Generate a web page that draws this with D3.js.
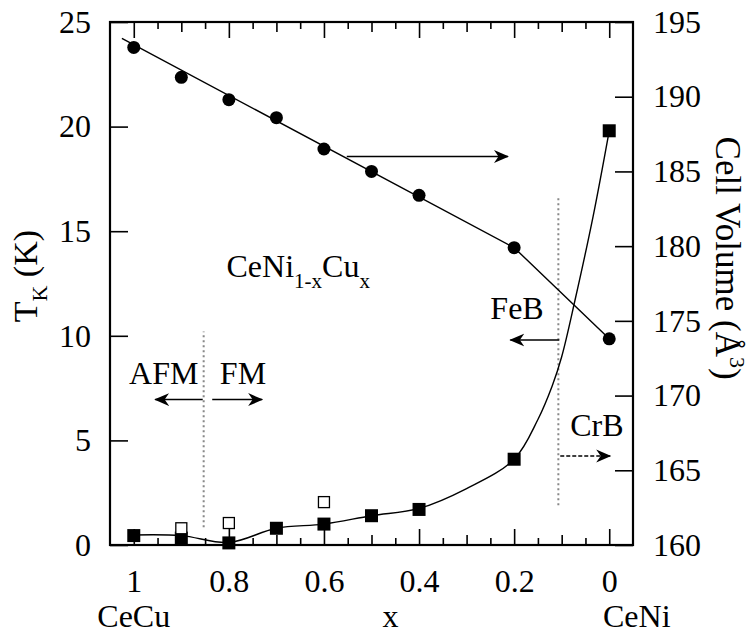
<!DOCTYPE html>
<html>
<head>
<meta charset="utf-8">
<script src="https://cdn.jsdelivr.net/npm/d3@7"></script>
<style>
  body { margin: 0; background: #fff; }
  text { font-family: "Liberation Serif", "Times New Roman", "DejaVu Serif", serif; }
</style>
</head>
<body>
<svg id="chart" width="754" height="636"></svg>
<script>
// composition x, and the two measured series
const xVals = [1, 0.9, 0.8, 0.7, 0.6, 0.5, 0.4, 0.2, 0];
const cellVolume = [193.3, 191.3, 189.8, 188.6, 186.5, 185.0, 183.4, 179.9, 173.8];
const tkFilled = [0.45, 0.33, 0.1, 0.8, 1.0, 1.4, 1.7, 4.1, 19.8];
const tkOpenX = [0.9, 0.8, 0.6];
const tkOpen = [0.8, 1.05, 2.05];

// guide lines
const volFitX = [1.025, 0.2, 0];
const volFit = [193.9, 179.9, 173.8];
const tkCurveX = [1.0, 0.9, 0.8, 0.7, 0.6, 0.5, 0.4, 0.3, 0.2, 0.15, 0.12, 0.1, 0.072, 0.034, 0.0];
const tkCurve = [0.48, 0.45, 0.12, 0.8, 1.0, 1.4, 1.75, 2.7, 4.1, 6.0, 7.6, 9.0, 11.7, 15.7, 19.8];

// tick values
const xTicks = [1, 0.8, 0.6, 0.4, 0.2, 0];
const xTickLabels = ["1", "0.8", "0.6", "0.4", "0.2", "0"];
const tkTicks = [0, 5, 10, 15, 20, 25];
const volTicks = [160, 165, 170, 175, 180, 185, 190, 195];

// phase boundaries (x, T from, T to) and arrows (x1, x2, y, axis)
const boundaryX = [0.853, 0.107];
const boundaryT = [[0.85, 10.2], [1.9, 16.7]];
const arrows = [
  { x1: 0.855, x2: 0.955, y: 6.95, axis: "tk", dash: false },
  { x1: 0.835, x2: 0.73, y: 6.95, axis: "tk", dash: false },
  { x1: 0.552, x2: 0.213, y: 186.0, axis: "vol", dash: false },
  { x1: 0.105, x2: 0.208, y: 9.8, axis: "tk", dash: false },
  { x1: 0.103, x2: -0.002, y: 4.25, axis: "tk", dash: true }
];
const labels = [
  { text: "AFM", x: 1.01, t: 7.7 },
  { text: "FM", x: 0.819, t: 7.7 },
  { text: "FeB", x: 0.25, t: 10.8 },
  { text: "CrB", x: 0.082, t: 5.2 }
];

const W = 754, H = 636;
const margin = { top: 22, right: 121, bottom: 91, left: 110 };
const serif = "'Liberation Serif', 'Times New Roman', 'DejaVu Serif', serif";
const svg = d3.select("#chart");

const x = d3.scaleLinear().domain([1.05, -0.05]).range([margin.left, W - margin.right]);
const yT = d3.scaleLinear().domain([0, 25]).range([H - margin.bottom, margin.top]);
const yV = d3.scaleLinear().domain([160, 195]).range([H - margin.bottom, margin.top]);

const fs = 32;

// arrowhead
svg.append("defs").append("marker")
  .attr("id", "head")
  .attr("viewBox", "0 -7 16 14")
  .attr("refX", 14).attr("refY", 0)
  .attr("markerWidth", 16).attr("markerHeight", 14)
  .attr("markerUnits", "userSpaceOnUse")
  .attr("orient", "auto")
  .append("path")
  .attr("d", "M0,-6.5 L15,0 L0,6.5 L4.5,0 Z")
  .attr("fill", "#000");

// x axis ticks (inward, top and bottom)
const minor05 = d3.range(0, 21).map(i => i * 0.05).filter(v => Math.round(v * 100) % 10 !== 0);
const minor10 = [0.9, 0.7, 0.5, 0.3, 0.1];

function xTickAxis(gen, vals, size, yPos) {
  svg.append("g")
    .attr("transform", `translate(0,${yPos})`)
    .call(gen(x).tickValues(vals).tickSize(-size).tickFormat(""))
    .call(g => g.select(".domain").remove())
    .call(g => g.selectAll("line").attr("stroke-width", 1.6));
}
[[d3.axisBottom, H - margin.bottom], [d3.axisTop, margin.top]].forEach(([gen, yPos]) => {
  xTickAxis(gen, xTicks, 16, yPos);
  xTickAxis(gen, minor10, 10, yPos);
  xTickAxis(gen, minor05, 7, yPos);
});

// bottom labels
svg.append("g")
  .attr("transform", `translate(0,${H - margin.bottom})`)
  .call(d3.axisBottom(x).tickValues(xTicks).tickSize(0).tickPadding(24)
    .tickFormat((d, i) => xTickLabels[i]))
  .call(g => g.select(".domain").remove())
  .call(g => g.selectAll("text").attr("font-size", fs).attr("fill", "#000"));

// left axis
svg.append("g")
  .attr("transform", `translate(${margin.left},0)`)
  .call(d3.axisLeft(yT).tickValues(tkTicks).tickSize(-18).tickPadding(19))
  .call(g => g.select(".domain").remove())
  .call(g => g.selectAll("line").attr("stroke-width", 1.6))
  .call(g => g.selectAll("text").attr("font-size", fs).attr("fill", "#000"));

// right axis
svg.append("g")
  .attr("transform", `translate(${W - margin.right},0)`)
  .call(d3.axisRight(yV).tickValues(volTicks).tickSize(-18).tickPadding(20))
  .call(g => g.select(".domain").remove())
  .call(g => g.selectAll("line").attr("stroke-width", 1.6))
  .call(g => g.selectAll("text").attr("font-size", fs).attr("fill", "#000"));

// frame
svg.append("rect")
  .attr("x", margin.left).attr("y", margin.top)
  .attr("width", W - margin.left - margin.right)
  .attr("height", H - margin.top - margin.bottom)
  .attr("fill", "none").attr("stroke", "#000").attr("stroke-width", 2.2);

// phase boundaries
svg.selectAll(".boundary")
  .data(boundaryX)
  .join("line")
  .attr("class", "boundary")
  .attr("x1", d => x(d)).attr("x2", d => x(d))
  .attr("y1", (d, i) => yT(boundaryT[i][0]))
  .attr("y2", (d, i) => yT(boundaryT[i][1]))
  .attr("stroke", "#888").attr("stroke-width", 2)
  .attr("stroke-dasharray", "2,3");

// cell volume line + points
const volLine = d3.line().x((d, i) => x(volFitX[i])).y(d => yV(d));
svg.append("path")
  .attr("d", volLine(volFit))
  .attr("fill", "none").attr("stroke", "#000").attr("stroke-width", 1.4);

svg.selectAll(".vol")
  .data(cellVolume)
  .join("circle")
  .attr("class", "vol")
  .attr("cx", (d, i) => x(xVals[i]))
  .attr("cy", d => yV(d))
  .attr("r", 6.5)
  .attr("fill", "#000");

// T_K curve + points
const tkLine = d3.line().x((d, i) => x(tkCurveX[i])).y(d => yT(d)).curve(d3.curveCatmullRom.alpha(0.5));
svg.append("path")
  .attr("d", tkLine(tkCurve))
  .attr("fill", "none").attr("stroke", "#000").attr("stroke-width", 1.4);

const sq = 13;
svg.selectAll(".tk")
  .data(tkFilled)
  .join("rect")
  .attr("class", "tk")
  .attr("x", (d, i) => x(xVals[i]) - sq / 2)
  .attr("y", d => yT(d) - sq / 2)
  .attr("width", sq).attr("height", sq)
  .attr("fill", "#000");

const osq = 11;
svg.selectAll(".tkOpen")
  .data(tkOpen)
  .join("rect")
  .attr("class", "tkOpen")
  .attr("x", (d, i) => x(tkOpenX[i]) - osq / 2)
  .attr("y", d => yT(d) - osq / 2)
  .attr("width", osq).attr("height", osq)
  .attr("fill", "#fff").attr("stroke", "#000").attr("stroke-width", 1.3);

// arrows
svg.selectAll(".arrow")
  .data(arrows)
  .join("line")
  .attr("class", "arrow")
  .attr("x1", d => x(d.x1)).attr("x2", d => x(d.x2))
  .attr("y1", d => (d.axis === "tk" ? yT : yV)(d.y))
  .attr("y2", d => (d.axis === "tk" ? yT : yV)(d.y))
  .attr("stroke", "#000").attr("stroke-width", 1.5)
  .attr("stroke-dasharray", d => d.dash ? "4,2" : null)
  .attr("marker-end", "url(#head)");

// text annotations
svg.selectAll(".lab")
  .data(labels)
  .join("text")
  .attr("class", "lab")
  .attr("x", d => x(d.x)).attr("y", d => yT(d.t))
  .attr("font-size", fs)
  .text(d => d.text);

const formula = svg.append("text")
  .attr("x", x(0.805)).attr("y", yT(12.8))
  .attr("font-size", fs);
formula.append("tspan").text("CeNi");
formula.append("tspan").attr("font-size", 21).attr("dy", 11).text("1-x");
formula.append("tspan").attr("dy", -11).text("Cu");
formula.append("tspan").attr("font-size", 21).attr("dy", 11).text("x");

// bottom compound names and axis title
const bottomY = 627;
svg.append("text").attr("x", x(1)).attr("y", bottomY).attr("text-anchor", "middle")
  .attr("font-size", fs).text("CeCu");
svg.append("text").attr("x", x(0.46)).attr("y", bottomY).attr("text-anchor", "middle")
  .attr("font-size", fs).text("x");
svg.append("text").attr("x", x(-0.058)).attr("y", bottomY).attr("text-anchor", "middle")
  .attr("font-size", fs).text("CeNi");

// left title
const lt = svg.append("text")
  .attr("transform", `translate(37,${yT(12.85)}) rotate(-90)`)
  .attr("text-anchor", "middle")
  .attr("font-size", 34);
lt.append("tspan").text("T");
lt.append("tspan").attr("font-size", 22).attr("dy", 10).text("K");
lt.append("tspan").attr("dy", -10).text(" (K)");

// right title
const rt = svg.append("text")
  .attr("transform", `translate(716,${yV(179.2)}) rotate(90)`)
  .attr("text-anchor", "middle")
  .attr("font-size", 35);
rt.append("tspan").text("Cell Volume (Å");
rt.append("tspan").attr("font-size", 22).attr("dy", -14).text("3");
rt.append("tspan").attr("dy", 14).text(")");

// serif everywhere (axes set their own sans-serif default)
svg.selectAll("g").attr("font-family", serif);
svg.selectAll("text").attr("font-family", serif);
</script>
</body>
</html>
